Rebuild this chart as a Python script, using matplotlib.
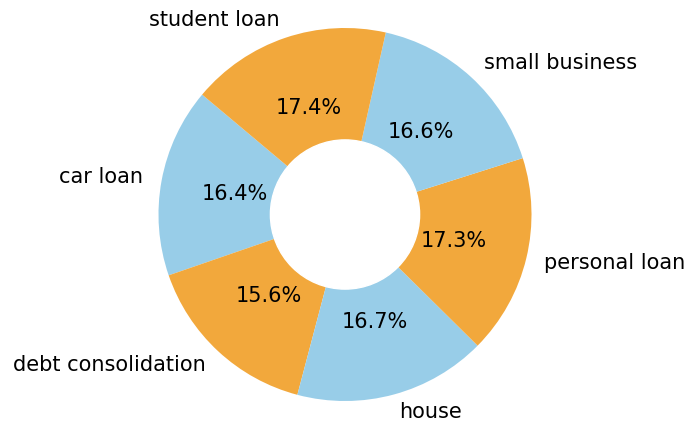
import matplotlib.pyplot as plt

purposes = ['car loan', 'debt consolidation', 'house', 'personal loan',
            'small business', 'student loan']
shares = [16.4, 15.6, 16.7, 17.3, 16.6, 17.4]
colors = ['#98CDE8', '#F2A83C'] * 3

fig = plt.figure(figsize=(6.87, 4.23), dpi=100)
ax = fig.add_axes([0, 0, 1, 1])

ax.pie(shares, labels=purposes, colors=colors, autopct='%1.1f%%',
       startangle=140, pctdistance=0.6, labeldistance=1.1,
       textprops={'fontsize': 15})

# white disc in the middle turns the pie into a donut
ax.add_artist(plt.Circle((0, 0), 0.4, color='white'))

# place the pie so the scale is 186.5 px per unit
r = 186.5
cx, cy = 345, 214.5
ax.set_xlim(-cx / r, (687 - cx) / r)
ax.set_ylim(-(423 - cy) / r, cy / r)
ax.set_aspect('auto')
ax.axis('off')

fig.savefig('out.png', dpi=100)
